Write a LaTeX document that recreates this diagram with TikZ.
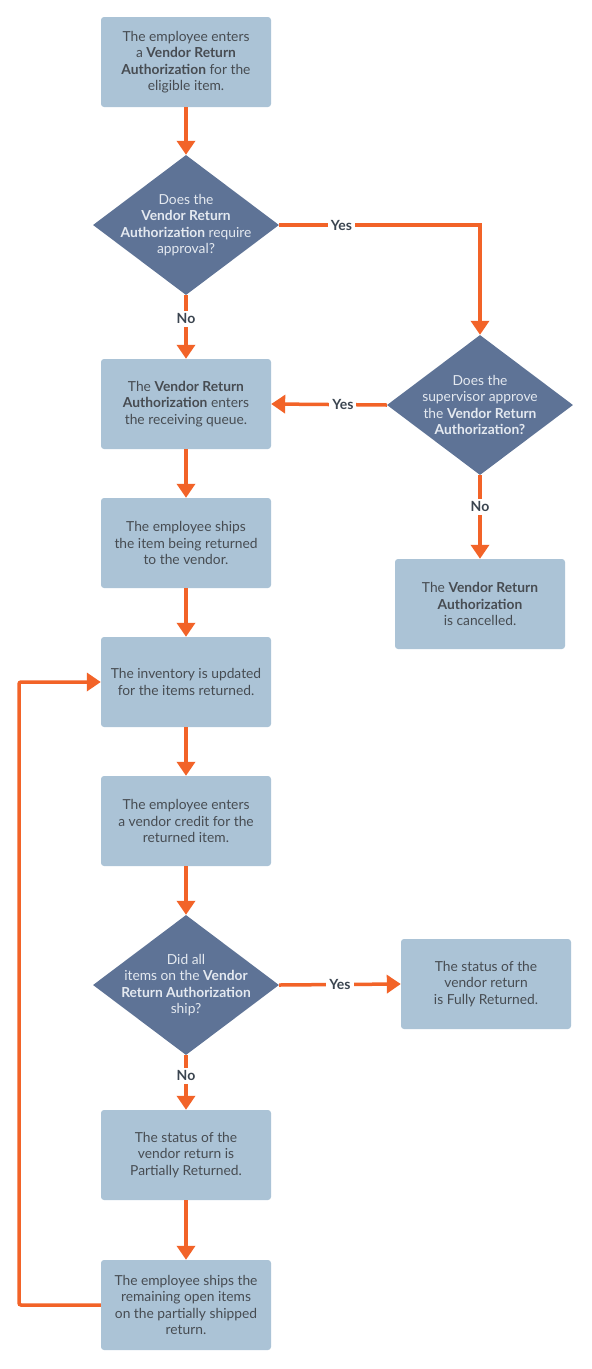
\documentclass[tikz,border=0pt]{standalone}
\usepackage{fontspec}
\setmainfont{Lato}
\usetikzlibrary{arrows.meta,shapes.geometric}
\definecolor{boxc}{HTML}{ABC3D6}
\definecolor{diac}{HTML}{5E7396}
\definecolor{orc}{HTML}{F26328}
\definecolor{btxt}{HTML}{474C52}
\definecolor{dtxt}{HTML}{E4E9F0}
\definecolor{ltxt}{HTML}{3B4550}
\tikzset{
  stepbox/.style={draw=none,fill=boxc,rounded corners=3pt,minimum width=170pt,minimum height=90pt,
    align=center,text=btxt,font=\fontsize{13.8}{16.5}\selectfont,inner sep=0pt},
  decision/.style={diamond,draw=none,fill=diac,minimum width=186pt,minimum height=140pt,inner sep=0pt},
  dtext/.style={align=center,text=dtxt,font=\fontsize{13.8}{16.5}\selectfont,inner sep=0pt},
  conn/.style={draw=orc,line width=3.5pt,-{Triangle[width=18pt,length=14pt]}},
  lbl/.style={fill=white,text=ltxt,font=\fontsize{14}{16}\selectfont\bfseries,inner sep=3pt}
}
\begin{document}
\begin{tikzpicture}[x=1pt,y=-1pt]
\useasboundingbox (0,0) rectangle (592,1369);
\node[stepbox] (b1) at (186,62) {The employee enters\\ a \textbf{Vendor Return}\\ \textbf{Authorization} for the\\ eligible item.};
\node[decision] (d1) at (186,225) {};
\node[dtext] (t1) at (d1.center) {Does the\\ \textbf{Vendor Return}\\ \textbf{Authorization} require\\ approval?};
\node[stepbox] (b2) at (186,404) {The \textbf{Vendor Return}\\ \textbf{Authorization} enters\\ the receiving queue.};
\node[decision] (d2) at (480,405) {};
\node[dtext] (t2) at (d2.center) {Does the\\ supervisor approve\\ the \textbf{Vendor Return}\\ \textbf{Authorization?}};
\node[stepbox] (bc) at (480,604) {The \textbf{Vendor Return}\\ \textbf{Authorization}\\ is cancelled.};
\node[stepbox] (b3) at (186,543) {The employee ships\\ the item being returned\\ to the vendor.};
\node[stepbox] (b4) at (186,682) {The inventory is updated\\ for the items returned.};
\node[stepbox] (b5) at (186,821) {The employee enters\\ a vendor credit for the\\ returned item.};
\node[decision] (d3) at (186,985) {};
\node[dtext] (t3) at (d3.center) {Did all\\ items on the \textbf{Vendor}\\ \textbf{Return Authorization}\\ ship?};
\node[stepbox] (bf) at (486,984) {The status of the\\ vendor return\\ is Fully Returned.};
\node[stepbox] (b6) at (186,1155) {The status of the\\ vendor return is\\ Partially Returned.};
\node[stepbox] (b7) at (186,1305) {The employee ships the\\ remaining open items\\ on the partially shipped\\ return.};
\coordinate (lp1) at (19,1305);
\coordinate (lp2) at (19,682);

\draw[conn] (b1) -- (d1);
\draw[conn] (d1.east) -- node[lbl,pos=0.31]{Yes} (d1.east -| d2.north) -- (d2.north);
\draw[conn] (d1.south) -- node[lbl,pos=0.37]{No} (b2.north);
\draw[conn] (d2.west) -- node[lbl,pos=0.38]{Yes} (b2.east);
\draw[conn] (d2.south) -- node[lbl,pos=0.38]{No} (bc.north);
\draw[conn] (b2) -- (b3);
\draw[conn] (b3) -- (b4);
\draw[conn] (b4) -- (b5);
\draw[conn] (b5) -- (d3);
\draw[conn] (d3.east) -- node[lbl,pos=0.5]{Yes} (bf.west);
\draw[conn] (d3.south) -- node[lbl,pos=0.38]{No} (b6.north);
\draw[conn] (b6) -- (b7);
\draw[conn,rounded corners=2pt] (b7.west) -- (lp1) -- (lp2) -- (b4.west);
\end{tikzpicture}
\end{document}
